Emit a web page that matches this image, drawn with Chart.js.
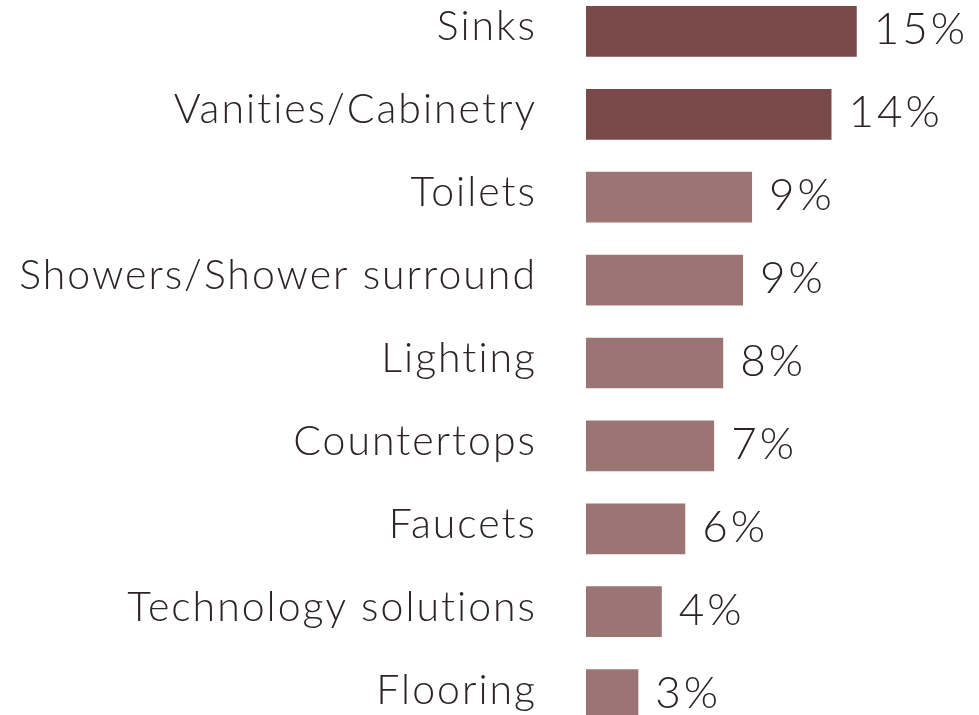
<!DOCTYPE html>
<html>
<head>
<meta charset="utf-8">
<script src="https://cdn.jsdelivr.net/npm/chart.js@4"></script>
<style>
  html, body { margin: 0; padding: 0; background: #fff; overflow: hidden; }
  #wrap { position: absolute; left: 0; top: -10px; width: 979px; height: 746px; }
</style>
</head>
<body>
<div id="wrap"><canvas id="mycanvas"></canvas></div>
<script>
// categories, values (share in %), and the printed labels
let categories = ["Sinks", "Vanities/Cabinetry", "Toilets", "Showers/Shower surround",
                  "Lighting", "Countertops", "Faucets", "Technology solutions", "Flooring"];
let shares = [15, 13.6, 9.2, 8.7, 7.6, 7.1, 5.5, 4.2, 2.9];
let shareLabels = ["15%", "14%", "9%", "9%", "8%", "7%", "6%", "4%", "3%"];
let highlighted = [true, true, false, false, false, false, false, false, false];

let darkColor = "#794849";
let lightColor = "#9b7573";
let textColor = "#2b2324";
let fontFamily = "Lato, 'Open Sans', sans-serif";

let barColors = [];
for (let i in highlighted) {
    barColors.push(highlighted[i] ? darkColor : lightColor);
}

// category names left of the axis, values right of every bar
let barLabels = {
    id: "barLabels",
    afterDatasetsDraw: function(chart) {
        let ctx = chart.ctx;
        let yScale = chart.scales.y;
        let meta = chart.getDatasetMeta(0);
        ctx.save();
        ctx.fillStyle = textColor;
        ctx.textBaseline = "alphabetic";

        ctx.font = "300 41px " + fontFamily;
        ctx.letterSpacing = "2px";
        ctx.textAlign = "right";
        categories.forEach(function(name, i) {
            let y = yScale.getPixelForValue(i);
            ctx.fillText(name, yScale.right - 51 + 2, y + 9);
        });

        ctx.font = "300 44px " + fontFamily;
        ctx.letterSpacing = "3px";
        ctx.textAlign = "left";
        meta.data.forEach(function(bar, i) {
            ctx.fillText(shareLabels[i], bar.x + 17, bar.y + 13);
        });
        ctx.restore();
    }
};

let chartdata = {
    labels: categories,
    datasets: [
        {
            data: shares,
            backgroundColor: barColors,
            borderWidth: 0,
            barPercentage: 0.612,
            categoryPercentage: 1.0
        }
    ]
};

let ctx = document.getElementById("mycanvas");

let barChart = new Chart(ctx, {
    type: "bar",
    data: chartdata,
    options: {
        indexAxis: "y",
        responsive: true,
        maintainAspectRatio: false,
        animation: false,
        layout: { padding: { top: 0, bottom: 0, left: 0, right: 32 } },
        plugins: {
            legend: { display: false },
            tooltip: { enabled: false }
        },
        scales: {
            x: {
                display: false,
                min: 0,
                max: 20
            },
            y: {
                border: { display: false },
                grid: { display: false, drawTicks: false },
                ticks: { display: false },
                afterFit: function(scale) {
                    scale.width = 586;
                    scale.paddingTop = 0;
                    scale.paddingBottom = 0;
                }
            }
        }
    },
    plugins: [barLabels]
});
</script>
</body>
</html>
